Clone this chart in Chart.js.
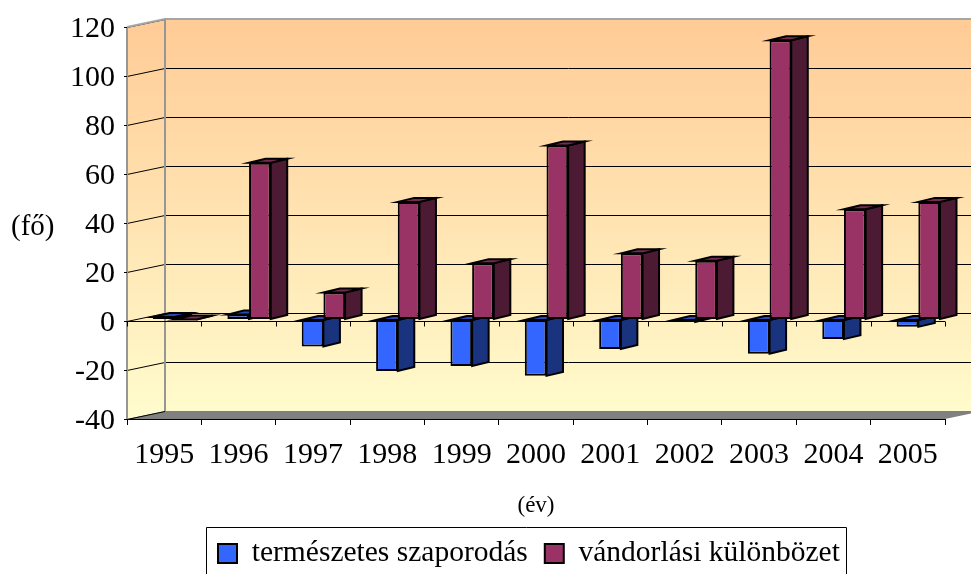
<!DOCTYPE html>
<html>
<head>
<meta charset="utf-8">
<title>természetes szaporodás, vándorlási különbözet</title>
<script src="https://cdn.jsdelivr.net/npm/chart.js@4/dist/chart.umd.min.js"></script>
<style>
  html, body { margin: 0; padding: 0; background: #fff; overflow: hidden; }
  #barChart { display: block; }
</style>
</head>
<body>
<canvas id="barChart" width="971" height="574"></canvas>
<script>
var years = ["1995", "1996", "1997", "1998", "1999", "2000", "2001", "2002", "2003", "2004", "2005"];
var termeszetes = [1, 2, -11, -21, -19, -23, -12, -1, -14, -8, -3];
var vandorlasi = [0, 64, 11, 48, 23, 71, 27, 24, 114, 45, 48];
var seriesNames = ["természetes szaporodás", "vándorlási különbözet"];
var yTitle = "(fő)";
var xTitle = "(év)";

var font = "'Liberation Serif', 'Times New Roman', serif";

// depth of the fake 3D box and of the bars inside it
var wallDx = 38, wallDy = -8;
var barShiftX = 10.5, barShiftY = -1.5;
var barDx = 16.5, barDy = -4;

var sideColors = ['#1a337f', '#4d1a33'];
var topColors = ['#2848b8', '#7a2952'];

function poly(ctx, pts, fill, stroke, lw) {
  ctx.beginPath();
  ctx.moveTo(pts[0][0], pts[0][1]);
  for (var i = 1; i < pts.length; i++) ctx.lineTo(pts[i][0], pts[i][1]);
  ctx.closePath();
  if (fill) { ctx.fillStyle = fill; ctx.fill(); }
  if (stroke) { ctx.strokeStyle = stroke; ctx.lineWidth = lw; ctx.stroke(); }
}

var box3d = {
  id: 'box3d',
  afterLayout: function (chart) {
    // legend sits in its own frame, not centred on the canvas
    chart.legend.left = 201;
    chart.legend.right = 960;
    chart.legend.top = 521.75;
  },
  beforeDraw: function (chart) {
    var ctx = chart.ctx, a = chart.chartArea, y = chart.scales.y;
    var bx = a.left + wallDx, by = a.top + wallDy, bb = a.bottom + wallDy, br = a.right + wallDx;
    var g = ctx.createLinearGradient(0, by, 0, bb);
    g.addColorStop(0, '#ffcb96');
    g.addColorStop(1, '#fffbcc');
    ctx.save();
    poly(ctx, [[a.left, a.top], [bx, by], [bx, bb], [a.left, a.bottom]], g);
    ctx.fillStyle = g;
    ctx.fillRect(bx, by, br - bx, bb - by);
    poly(ctx, [[a.left, a.bottom], [bx, bb], [br, bb], [a.right, a.bottom]], '#808080');

    y.ticks.forEach(function (t) {
      var py = Math.round(y.getPixelForValue(t.value)) + 0.5;
      ctx.strokeStyle = '#000';
      ctx.lineWidth = 1;
      ctx.beginPath();
      ctx.moveTo(a.left, py);
      ctx.lineTo(bx, py + wallDy);
      if (t.value > y.min) ctx.lineTo(br, py + wallDy);
      ctx.stroke();
    });

    // wall edges
    ctx.strokeStyle = '#a6a6a6';
    ctx.lineWidth = 2;
    ctx.beginPath();
    ctx.moveTo(a.left, a.top);
    ctx.lineTo(bx, by);
    ctx.lineTo(br, by);
    ctx.stroke();
    ctx.strokeStyle = '#969696';
    ctx.beginPath();
    ctx.moveTo(bx, by);
    ctx.lineTo(bx, bb);
    ctx.stroke();
    ctx.beginPath();
    ctx.moveTo(a.left, a.top);
    ctx.lineTo(a.left, a.bottom);
    ctx.stroke();

    // zero line of the front plane with its ticks
    var zero = Math.round(y.getPixelForValue(0)) + 0.5;
    ctx.strokeStyle = '#000';
    ctx.lineWidth = 1;
    ctx.beginPath();
    ctx.moveTo(a.left, zero);
    ctx.lineTo(a.right, zero);
    for (var i = 0; i <= years.length; i++) {
      var tx = Math.round(a.left + i * (a.right - a.left) / years.length) + 0.5;
      ctx.moveTo(tx, zero);
      ctx.lineTo(tx, zero + 5);
    }
    ctx.moveTo(a.left, a.bottom + 0.5);
    ctx.lineTo(a.right, a.bottom + 0.5);
    ctx.stroke();

    // y axis title is horizontal here
    ctx.fillStyle = '#000';
    ctx.font = '29px ' + font;
    ctx.textAlign = 'left';
    ctx.textBaseline = 'middle';
    ctx.fillText(yTitle, 11, 227);
    ctx.restore();
  },
  beforeDatasetsDraw: function (chart) {
    var ctx = chart.ctx;
    ctx.save();
    ctx.translate(barShiftX, barShiftY);
    chart.data.datasets.forEach(function (ds, di) {
      chart.getDatasetMeta(di).data.forEach(function (b) {
        var l = b.x - b.width / 2, r = b.x + b.width / 2;
        var up = Math.min(b.y, b.base), low = Math.max(b.y, b.base);
        poly(ctx, [[r, up], [r + barDx, up + barDy], [r + barDx, low + barDy], [r, low]], sideColors[di], '#000', 2);
        poly(ctx, [[l, up], [l + barDx, up + barDy], [r + barDx, up + barDy], [r, up]], topColors[di], '#000', 2);
      });
    });
  },
  afterDatasetsDraw: function (chart) {
    chart.ctx.restore();
  },
  afterDraw: function (chart) {
    // legend frame runs off the bottom of the picture
    var ctx = chart.ctx;
    ctx.save();
    ctx.strokeStyle = '#000';
    ctx.lineWidth = 1;
    ctx.beginPath();
    ctx.moveTo(206.5, 580);
    ctx.lineTo(206.5, 527.5);
    ctx.lineTo(846.5, 527.5);
    ctx.lineTo(846.5, 580);
    ctx.stroke();
    ctx.restore();
  }
};

var barChart = new Chart(document.getElementById('barChart').getContext('2d'), {
  type: 'bar',
  data: {
    labels: years,
    datasets: [
      { label: seriesNames[0], data: termeszetes, backgroundColor: '#3366ff', borderColor: '#000', borderWidth: 2, borderSkipped: false },
      { label: seriesNames[1], data: vandorlasi, backgroundColor: '#993366', borderColor: '#000', borderWidth: 2, borderSkipped: false }
    ]
  },
  plugins: [box3d],
  options: {
    responsive: false,
    animation: false,
    devicePixelRatio: 1,
    // legend is taller than the space left for it, so let it hang below the canvas
    layout: { padding: { top: 27, right: 26, left: 0, bottom: -7 } },
    datasets: { bar: { barPercentage: 1, categoryPercentage: 0.583 } },
    scales: {
      x: {
        afterFit: function (s) { s.height = 105.5; },
        grid: { drawOnChartArea: false, tickLength: 6, tickColor: '#000', tickWidth: 1 },
        border: { display: false },
        ticks: { color: '#000', font: { family: font, size: 30 }, padding: 12, maxRotation: 0, autoSkip: false },
        title: { display: true, text: xTitle, color: '#000', font: { family: font, size: 23 }, padding: { top: 0, bottom: 4.5 } }
      },
      y: {
        min: -40,
        max: 120,
        afterFit: function (s) { s.width = 127; },
        grid: { drawOnChartArea: false, tickLength: 3, tickColor: '#000' },
        border: { display: false },
        ticks: { stepSize: 20, color: '#000', font: { family: font, size: 30 }, padding: 9, labelOffset: 2 }
      }
    },
    plugins: {
      tooltip: { enabled: false },
      legend: {
        position: 'bottom',
        align: 'start',
        labels: { boxWidth: 19, boxHeight: 19, color: '#000', padding: 17, font: { family: font, size: 29.5 } }
      }
    }
  }
});
</script>
</body>
</html>
